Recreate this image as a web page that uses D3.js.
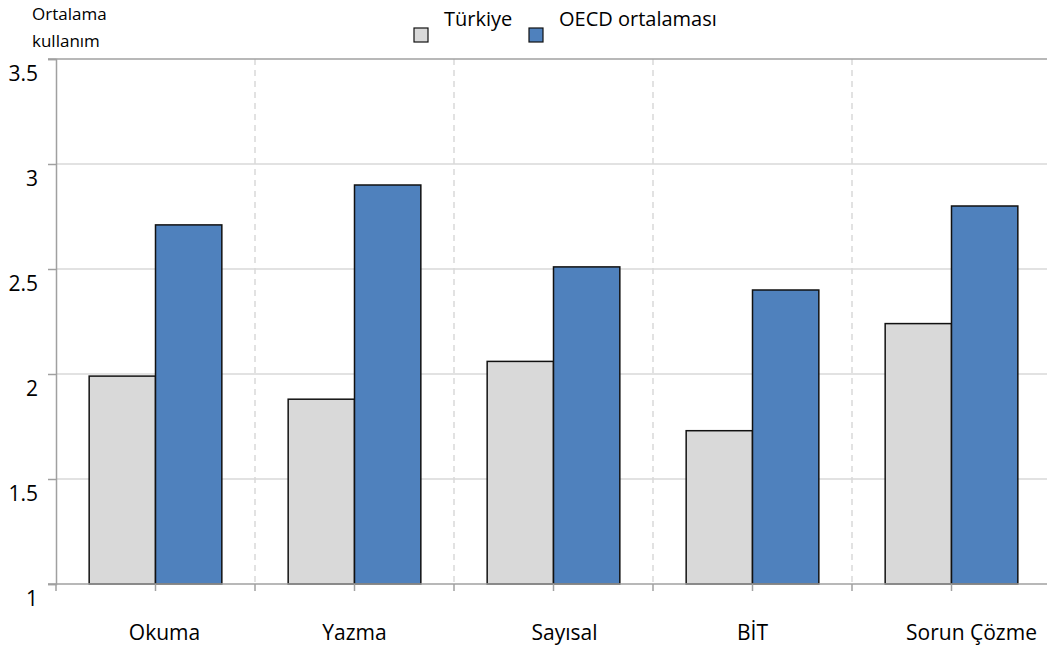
<!DOCTYPE html>
<html>
<head>
<meta charset="utf-8">
<script src="https://cdn.jsdelivr.net/npm/d3@7"></script>
<style>
  html, body { margin: 0; padding: 0; background: #fff; }
  svg { display: block; font-family: "Open Sans", sans-serif; }
</style>
</head>
<body>
<svg id="chart" width="1047" height="648"></svg>
<script>
// Skill categories and mean usage scores
const categories = ["Okuma", "Yazma", "Sayısal", "BİT", "Sorun Çözme"];
const seriesNames = ["Türkiye", "OECD ortalaması"];
const turkiye = [1.99, 1.88, 2.06, 1.73, 2.24];
const oecd = [2.71, 2.90, 2.51, 2.40, 2.80];
const yTicks = [1, 1.5, 2, 2.5, 3, 3.5];
const yTitle = ["Ortalama", "kullanım"];

const colors = { "Türkiye": "#d9d9d9", "OECD ortalaması": "#4f81bd" };
// horizontal nudges for category labels
const labelShift = [9, 0, 11, 0, 20];

const svg = d3.select("#chart");
const plotLeft = 56, plotRight = 1051, plotTop = 59, plotBottom = 584;

const y = d3.scaleLinear().domain([1, 3.5]).range([plotBottom, plotTop]);
const x0 = d3.scaleBand().domain(categories).range([plotLeft, plotRight]).padding(0);
const bw = x0.bandwidth();
const x1 = d3.scaleBand().domain(seriesNames).range([bw / 6, bw * 5 / 6]).padding(0);

// horizontal gridlines
svg.append("g")
  .selectAll("line")
  .data(yTicks.filter(d => d > 1 && d < 3.5))
  .join("line")
  .attr("x1", plotLeft).attr("x2", plotRight)
  .attr("y1", d => y(d)).attr("y2", d => y(d))
  .attr("stroke", "#d9d9d9").attr("stroke-width", 1.5);

// dashed separators between categories
svg.append("g")
  .selectAll("line")
  .data(categories.slice(1))
  .join("line")
  .attr("x1", d => x0(d)).attr("x2", d => x0(d))
  .attr("y1", plotTop).attr("y2", plotBottom)
  .attr("stroke", "#d9d9d9").attr("stroke-width", 1.5)
  .attr("stroke-dasharray", "6,5");

// top border
svg.append("line")
  .attr("x1", 48).attr("x2", plotRight)
  .attr("y1", y(3.5)).attr("y2", y(3.5))
  .attr("stroke", "#a0a0a0").attr("stroke-width", 1.5);

// bars
const data = categories.map((c, i) => ({ c, vals: [turkiye[i], oecd[i]] }));
svg.append("g")
  .selectAll("g")
  .data(data)
  .join("g")
  .attr("transform", d => `translate(${x0(d.c)},0)`)
  .selectAll("rect")
  .data(d => seriesNames.map((s, j) => ({ s, v: d.vals[j] })))
  .join("rect")
  .attr("x", d => x1(d.s))
  .attr("width", x1.bandwidth())
  .attr("y", d => y(d.v))
  .attr("height", d => y(1) - y(d.v))
  .attr("fill", d => colors[d.s])
  .attr("stroke", "#111")
  .attr("stroke-width", 1.5);

// y axis
const yAxis = svg.append("g")
  .attr("transform", `translate(${plotLeft},0)`)
  .call(d3.axisLeft(y).tickValues(yTicks).tickSize(8).tickPadding(10).tickFormat(d => String(d)));
yAxis.select(".domain").attr("stroke", "#a0a0a0").attr("stroke-width", 1.5);
yAxis.selectAll(".tick line").attr("stroke", "#a0a0a0").attr("stroke-width", 1.5);
yAxis.selectAll(".tick text")
  .attr("font-size", 21).attr("fill", "#000")
  .attr("font-family", "Open Sans, sans-serif")
  .attr("dy", "1.03em");

// x axis: ticks at category centres and boundaries
const xAxis = svg.append("g")
  .attr("transform", `translate(0,${plotBottom})`)
  .call(d3.axisBottom(x0).tickSize(7).tickFormat(""));
xAxis.select(".domain").remove();
xAxis.selectAll(".tick line").attr("stroke", "#a0a0a0").attr("stroke-width", 1.5);
svg.append("line")
  .attr("x1", 48).attr("x2", plotRight)
  .attr("y1", plotBottom).attr("y2", plotBottom)
  .attr("stroke", "#a0a0a0").attr("stroke-width", 1.5);
svg.append("g")
  .selectAll("line")
  .data(categories)
  .join("line")
  .attr("x1", d => x0(d)).attr("x2", d => x0(d))
  .attr("y1", plotBottom).attr("y2", plotBottom + 7)
  .attr("stroke", "#a0a0a0").attr("stroke-width", 1.5);

// category labels
svg.append("g")
  .selectAll("text")
  .data(categories)
  .join("text")
  .attr("x", (d, i) => x0(d) + bw / 2 + labelShift[i])
  .attr("y", 640)
  .attr("text-anchor", "middle")
  .attr("font-size", 21)
  .attr("fill", "#000")
  .text(d => d);

// y-axis title
svg.append("g")
  .selectAll("text")
  .data(yTitle)
  .join("text")
  .attr("x", 32)
  .attr("y", (d, i) => 20 + i * 27)
  .attr("font-size", 17)
  .attr("fill", "#000")
  .text(d => d);

// legend
const legendX = [414, 529];
const lg = svg.append("g")
  .selectAll("g")
  .data(seriesNames)
  .join("g")
  .attr("transform", (d, i) => `translate(${legendX[i]},0)`);
lg.append("rect")
  .attr("x", 0).attr("y", 28)
  .attr("width", 14).attr("height", 14)
  .attr("fill", d => colors[d])
  .attr("stroke", "#111").attr("stroke-width", 1.2);
lg.append("text")
  .attr("x", 30).attr("y", 26)
  .attr("font-size", 20)
  .attr("fill", "#000")
  .text(d => d);
</script>
</body>
</html>
